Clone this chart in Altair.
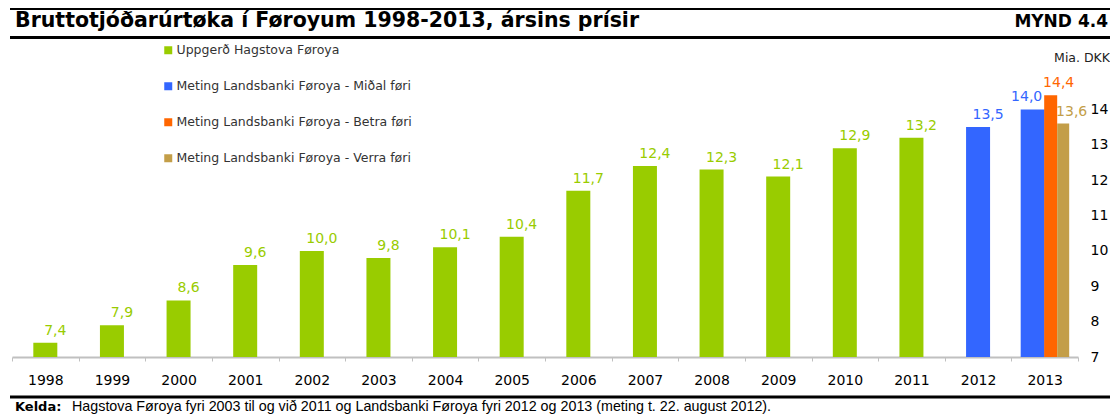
import altair as alt
import pandas as pd

# ---------------- data ----------------
years = ["1998", "1999", "2000", "2001", "2002", "2003", "2004", "2005",
         "2006", "2007", "2008", "2009", "2010", "2011", "2012", "2013"]

hagstova_years = ["1998", "1999", "2000", "2001", "2002", "2003", "2004",
                  "2005", "2006", "2007", "2008", "2009", "2010", "2011"]
hagstova_values = [7.4, 7.9, 8.6, 9.6, 10.0, 9.8, 10.1, 10.4, 11.7, 12.4,
                   12.3, 12.1, 12.9, 13.2]

midal_years = ["2012", "2013"]
midal_values = [13.5, 14.0]

betra_years = ["2013"]
betra_values = [14.4]

verra_years = ["2013"]
verra_values = [13.6]

series_names = ["Uppgerð Hagstova Føroya",
                "Meting Landsbanki Føroya - Miðal føri",
                "Meting Landsbanki Føroya - Betra føri",
                "Meting Landsbanki Føroya - Verra føri"]
series_colors = ["#99CC00", "#3366FF", "#FF6600", "#C39E48"]

y_ticks = [7, 8, 9, 10, 11, 12, 13, 14]

title_text = "Bruttotjóðarúrtøka í Føroyum 1998-2013, ársins prísir"
figure_text = "MYND 4.4"
unit_text = "Mia. DKK"
source_label = "Kelda:"
source_text = ("Hagstova Føroya fyri 2003 til og við 2011 og Landsbanki Føroya "
               "fyri 2012 og 2013 (meting t. 22. august 2012).")

rows = []
for yrs, vals, s in [(hagstova_years, hagstova_values, series_names[0]),
                     (midal_years, midal_values, series_names[1]),
                     (betra_years, betra_values, series_names[2]),
                     (verra_years, verra_values, series_names[3])]:
    for yr, v in zip(yrs, vals):
        rows.append({"year": yr, "value": v, "series": s})
df = pd.DataFrame(rows)

# ---------------- encodings ----------------
x_enc = alt.X("year:O", title=None,
              scale=alt.Scale(domain=years, paddingInner=0, paddingOuter=0),
              axis=alt.Axis(labelAngle=0, labelFont="DejaVu Sans", labelFontSize=14,
                            labelColor="#000000", labelPadding=12,
                            domainColor="#C0C0C0", domainWidth=2,
                            tickColor="#C0C0C0", tickSize=4, tickWidth=1,
                            tickBand="extent", grid=False))
y_enc = alt.Y("value:Q", title=None,
              scale=alt.Scale(domain=[7, 15], nice=False, zero=False),
              axis=alt.Axis(orient="right", values=y_ticks, domain=False, ticks=False,
                            grid=False, labelFont="DejaVu Sans", labelFontSize=14,
                            labelColor="#000000", labelPadding=12))
legend = alt.Legend(title=None, orient="none", legendX=150, legendY=-30,
                    direction="vertical", symbolType="square", symbolSize=64,
                    symbolStrokeWidth=0, labelFont="DejaVu Sans", labelFontSize=12.5,
                    labelColor="#333333", rowPadding=23, labelOffset=2, padding=0,
                    labelLimit=0)
color_enc = alt.Color("series:N",
                      scale=alt.Scale(domain=series_names, range=series_colors),
                      legend=legend)

base = alt.Chart(df).encode(x=x_enc, y=y_enc, color=color_enc)
labelled = base.transform_calculate(
    label="replace(format(datum.value, '.1f'), '.', ',')")

not2013 = "datum.year != '2013'"
midal13 = f"datum.year == '2013' && datum.series == '{series_names[1]}'"
betra13 = f"datum.series == '{series_names[2]}'"
verra13 = f"datum.series == '{series_names[3]}'"

bars_main = base.transform_filter(not2013).mark_bar(size=24, clip=True)
bars_m13 = base.transform_filter(midal13).mark_bar(size=24, clip=True, xOffset=-12)
bars_b13 = base.transform_filter(betra13).mark_bar(size=13, clip=True, xOffset=6)
bars_v13 = base.transform_filter(verra13).mark_bar(size=12, clip=True, xOffset=18.5)

txt_kw = dict(font="DejaVu Sans", fontSize=14, baseline="middle", dy=-12)
lab_main = labelled.transform_filter(not2013).mark_text(dx=10, **txt_kw).encode(text="label:N")
lab_m13 = labelled.transform_filter(midal13).mark_text(dx=-18, **txt_kw).encode(text="label:N")
lab_b13 = labelled.transform_filter(betra13).mark_text(dx=14, **txt_kw).encode(text="label:N")
lab_v13 = labelled.transform_filter(verra13).mark_text(dx=27, **txt_kw).encode(text="label:N")

# ---------------- decorations ----------------
one = pd.DataFrame({"t": [title_text], "f": [figure_text], "u": [unit_text],
                    "k": [source_label], "s": [source_text]})
deco = alt.Chart(one)

rule_top = deco.mark_rule(color="#000000", strokeWidth=3).encode(
    x=alt.value(-2), x2=alt.value(1098), y=alt.value(-65.5))
rule_mid = deco.mark_rule(color="#000000", strokeWidth=3).encode(
    x=alt.value(-2), x2=alt.value(1098), y=alt.value(-36.5))
rule_bot = deco.mark_rule(color="#000000", strokeWidth=3).encode(
    x=alt.value(-2), x2=alt.value(1098), y=alt.value(323))

title_mark = deco.mark_text(font="DejaVu Sans", fontSize=20.5, fontWeight="bold",
                            align="left", baseline="alphabetic", color="#000000").encode(
    text="t:N", x=alt.value(3), y=alt.value(-47))
fig_mark = deco.mark_text(font="DejaVu Sans", fontSize=17, fontWeight="bold",
                          align="right", baseline="alphabetic", color="#000000").encode(
    text="f:N", x=alt.value(1096), y=alt.value(-47))
unit_mark = deco.mark_text(font="DejaVu Sans", fontSize=12.5, align="right",
                           baseline="middle", color="#222222").encode(
    text="u:N", x=alt.value(1098), y=alt.value(-16))
kelda_mark = deco.mark_text(font="DejaVu Sans", fontSize=13, fontWeight="bold",
                            align="left", baseline="middle", color="#000000").encode(
    text="k:N", x=alt.value(3), y=alt.value(333))
source_mark = deco.mark_text(font="Liberation Sans", fontSize=14.3, align="left",
                             baseline="middle", color="#000000").encode(
    text="s:N", x=alt.value(60), y=alt.value(333))

chart = alt.layer(
    bars_main, bars_m13, bars_b13, bars_v13,
    lab_main, lab_m13, lab_b13, lab_v13,
    rule_top, rule_mid, rule_bot,
    title_mark, fig_mark, unit_mark, kelda_mark, source_mark,
).properties(
    width=1066, height=283,
    autosize=alt.AutoSizeParams(type="none"),
    padding={"left": 4, "top": 66, "right": 32, "bottom": 58},
    background="#FFFFFF",
).configure_view(stroke=None)

chart.save("out.html", embed_options={"renderer": "svg", "actions": False})
